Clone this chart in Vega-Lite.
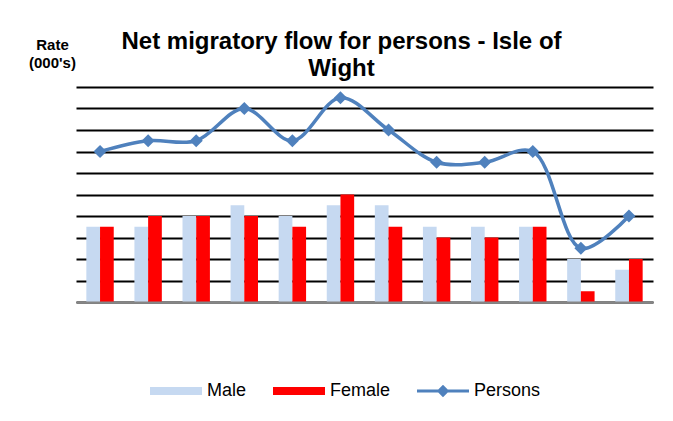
{
  "$schema": "https://vega.github.io/schema/vega-lite/v6.json",
  "width": 577,
  "height": 215,
  "autosize": {"type": "none"},
  "padding": {"left": 76, "top": 87, "right": 20, "bottom": 119},
  "background": "white",
  "config": {"font": "Liberation Sans", "view": {"stroke": null}},
  "title": {
    "text": ["Net migratory flow for persons - Isle of", "Wight"],
    "fontSize": 24,
    "font": "Liberation Sans",
    "fontWeight": "bold",
    "color": "black",
    "anchor": "middle",
    "frame": "group",
    "dx": -23,
    "offset": -44,
    "lineHeight": 27
  },
  "data": {
    "values": [
      {"period": "1", "series": "Male", "value": 3.5},
      {"period": "1", "series": "Female", "value": 3.5},
      {"period": "1", "series": "Persons", "value": 7},
      {"period": "2", "series": "Male", "value": 3.5},
      {"period": "2", "series": "Female", "value": 4},
      {"period": "2", "series": "Persons", "value": 7.5},
      {"period": "3", "series": "Male", "value": 4},
      {"period": "3", "series": "Female", "value": 4},
      {"period": "3", "series": "Persons", "value": 7.5},
      {"period": "4", "series": "Male", "value": 4.5},
      {"period": "4", "series": "Female", "value": 4},
      {"period": "4", "series": "Persons", "value": 9},
      {"period": "5", "series": "Male", "value": 4},
      {"period": "5", "series": "Female", "value": 3.5},
      {"period": "5", "series": "Persons", "value": 7.5},
      {"period": "6", "series": "Male", "value": 4.5},
      {"period": "6", "series": "Female", "value": 5},
      {"period": "6", "series": "Persons", "value": 9.5},
      {"period": "7", "series": "Male", "value": 4.5},
      {"period": "7", "series": "Female", "value": 3.5},
      {"period": "7", "series": "Persons", "value": 8},
      {"period": "8", "series": "Male", "value": 3.5},
      {"period": "8", "series": "Female", "value": 3},
      {"period": "8", "series": "Persons", "value": 6.5},
      {"period": "9", "series": "Male", "value": 3.5},
      {"period": "9", "series": "Female", "value": 3},
      {"period": "9", "series": "Persons", "value": 6.5},
      {"period": "10", "series": "Male", "value": 3.5},
      {"period": "10", "series": "Female", "value": 3.5},
      {"period": "10", "series": "Persons", "value": 7},
      {"period": "11", "series": "Male", "value": 2},
      {"period": "11", "series": "Female", "value": 0.5},
      {"period": "11", "series": "Persons", "value": 2.5},
      {"period": "12", "series": "Male", "value": 1.5},
      {"period": "12", "series": "Female", "value": 2},
      {"period": "12", "series": "Persons", "value": 4}
    ]
  },
  "encoding": {
    "x": {
      "field": "period",
      "type": "ordinal",
      "sort": null,
      "scale": {"paddingInner": 0.43, "paddingOuter": 0.215},
      "axis": {"labels": false, "ticks": false, "title": null, "domainColor": "#868686", "domainWidth": 2, "zindex": 1}
    },
    "y": {
      "field": "value",
      "type": "quantitative",
      "scale": {"domain": [0, 10], "nice": false},
      "axis": {
        "values": [0, 1, 2, 3, 4, 5, 6, 7, 8, 9, 10],
        "grid": true,
        "gridColor": "black",
        "gridWidth": 2,
        "labels": false,
        "ticks": false,
        "domain": false,
        "title": ["Rate", "(000's)"],
        "titleAngle": 0,
        "titleFontSize": 15,
        "titleFontWeight": "bold",
        "titleColor": "black",
        "titleAlign": "center",
        "titleBaseline": "top",
        "titleX": -24,
        "titleY": -50,
        "titleLineHeight": 18
      }
    },
    "color": {
      "field": "series",
      "type": "nominal",
      "scale": {"domain": ["Male", "Female", "Persons"], "range": ["#C6D9F1", "#FF0000", "#4F81BD"]},
      "legend": {
        "title": null,
        "orient": "none",
        "legendX": 74,
        "legendY": 278,
        "direction": "horizontal",
        "symbolSize": 2704,
        "symbolStrokeWidth": 0,
        "labelFontSize": 18,
        "labelColor": "black",
        "labelOffset": 5,
        "columnPadding": 26,
        "encode": {
          "symbols": {
            "update": {
              "shape": {"signal": "datum.value === 'Persons' ? 'M-1,-0.06H1V0.06H-1Z M0,-0.24L0.24,0L0,0.24L-0.24,0Z' : 'M-1,-0.15H1V0.15H-1Z'"},
              "strokeWidth": {"value": 0},
              "opacity": {"value": 1}
            }
          }
        }
      }
    }
  },
  "layer": [
    {
      "transform": [{"filter": "datum.series !== 'Persons'"}],
      "mark": {"type": "bar"},
      "encoding": {
        "xOffset": {"field": "series", "type": "nominal", "sort": ["Male", "Female"], "scale": {"paddingInner": 0, "paddingOuter": 0}}
      }
    },
    {
      "transform": [{"filter": "datum.series === 'Persons'"}],
      "mark": {"type": "line", "interpolate": "catmull-rom", "strokeWidth": 3.5},
      "encoding": {}
    },
    {
      "transform": [{"filter": "datum.series === 'Persons'"}],
      "mark": {"type": "point", "shape": "diamond", "filled": true, "size": 170, "opacity": 1},
      "encoding": {}
    }
  ]
}
